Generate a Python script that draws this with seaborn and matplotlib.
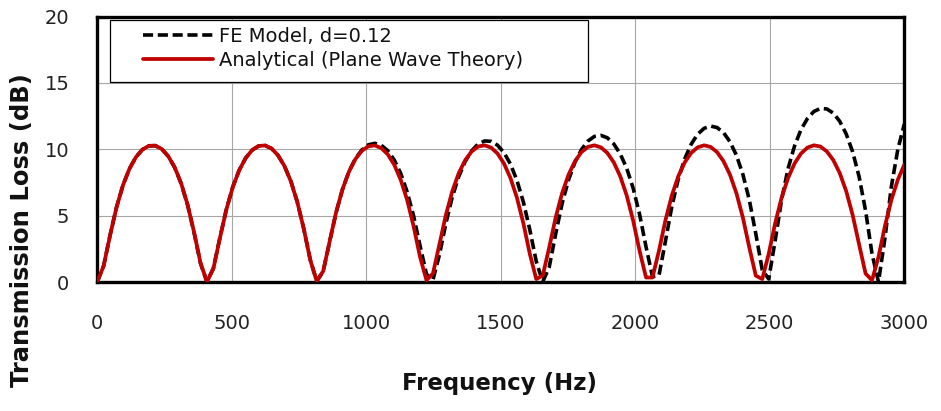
import matplotlib
matplotlib.use("Agg")
import matplotlib.pyplot as plt
from matplotlib.patches import Rectangle
import seaborn as sns

# ---------------- data ----------------
freq = list(range(0, 3001, 24))  # Hz

fe_model = [
    0.00, 1.22, 3.54, 5.65, 7.31, 8.54, 9.42, 9.98, 10.26, 10.27, 10.02, 9.48, 8.63, 7.42, 5.80, 3.73, 1.40, 0.01,
    1.05, 3.33, 5.47, 7.17, 8.44, 9.35, 9.94, 10.25, 10.29, 10.06, 9.55, 8.74, 7.58, 6.02, 4.00, 1.67, 0.06,
    0.80, 3.04, 5.24, 7.00, 8.34, 9.31, 9.96, 10.34, 10.45, 10.30, 9.90, 9.20, 8.19, 6.80, 4.98, 2.74, 0.59,
    0.16, 2.04, 4.41, 6.42, 7.95, 9.09, 9.89, 10.40, 10.63, 10.60, 10.31, 9.75, 8.89, 7.67, 6.04, 3.94, 1.55, 0.02,
    1.11, 3.61, 5.91, 7.69, 9.03, 9.98, 10.62, 10.97, 11.05, 10.87, 10.41, 9.66, 8.58, 7.08, 5.11, 2.65, 0.40,
    0.48, 3.06, 5.70, 7.76, 9.29, 10.39, 11.14, 11.58, 11.75, 11.64, 11.26, 10.57, 9.55, 8.11, 6.17, 3.64, 0.91,
    0.23, 3.12, 6.21, 8.55, 10.25, 11.48, 12.32, 12.85, 13.08, 13.04, 12.73, 12.11, 11.16, 9.81, 7.94, 5.38, 2.13,
    0.00, 3.30, 7.20, 10.00, 11.90,
]

analytical = [
    0.00, 1.22, 3.53, 5.64, 7.30, 8.54, 9.41, 9.98, 10.26, 10.28, 10.02, 9.48, 8.64, 7.44, 5.83, 3.76, 1.44, 0.01,
    1.02, 3.30, 5.45, 7.15, 8.43, 9.34, 9.94, 10.25, 10.29, 10.06, 9.55, 8.74, 7.58, 6.01, 3.99, 1.66, 0.06,
    0.82, 3.06, 5.25, 7.00, 8.32, 9.27, 9.89, 10.23, 10.29, 10.09, 9.62, 8.84, 7.71, 6.19, 4.21, 1.89, 0.13,
    0.64, 2.83, 5.05, 6.85, 8.21, 9.19, 9.84, 10.21, 10.30, 10.13, 9.68, 8.93, 7.84, 6.36, 4.43, 2.12, 0.22,
    0.48, 2.59, 4.85, 6.69, 8.09, 9.10, 9.79, 10.18, 10.30, 10.15, 9.73, 9.02, 7.97, 6.53, 4.64, 2.35, 0.34,
    0.34, 2.35, 4.64, 6.53, 7.97, 9.02, 9.73, 10.15, 10.30, 10.18, 9.79, 9.10, 8.09, 6.69, 4.85, 2.59, 0.48,
    0.22, 2.12, 4.43, 6.36, 7.84, 8.93, 9.68, 10.13, 10.30, 10.21, 9.84, 9.19, 8.21, 6.85, 5.05, 2.83, 0.64,
    0.13, 1.89, 4.21, 6.19, 7.71, 8.84,
]

x_ticks = [0, 500, 1000, 1500, 2000, 2500, 3000]
y_ticks = [0, 5, 10, 15, 20]
label_fe = "FE Model, d=0.12"
label_an = "Analytical (Plane Wave Theory)"
x_title = "Frequency (Hz)"
y_title = "Transmission Loss (dB)"

# ---------------- figure ----------------
sns.set_theme(style="white")
plt.rcParams["font.family"] = ["DejaVu Sans"]

W, H = 941, 411
fig = plt.figure(figsize=(W / 100, H / 100), dpi=100)
L, R, T, B = 97.2, 904.3, 16.6, 282.0
ax = fig.add_axes([L / W, 1 - B / H, (R - L) / W, (B - T) / H])

sns.lineplot(x=freq, y=fe_model, ax=ax, color="black", lw=2.6,
             linestyle=(0, (2.8, 1.3)), label=label_fe, zorder=3)
sns.lineplot(x=freq, y=analytical, ax=ax, color="#c00000", lw=2.7,
             label=label_an, zorder=4)

ax.set_xlim(0, 3000)
ax.set_ylim(0, 20)
ax.set_xticks(x_ticks)
ax.set_yticks(y_ticks)
ax.grid(True, color="#a6a6a6", lw=0.8)
ax.set_axisbelow(True)
for s in ax.spines.values():
    s.set_visible(True)
    s.set_color("black")
    s.set_linewidth(2.4)
ax.tick_params(axis="both", length=0, labelsize=14, colors="#222222")
ax.tick_params(axis="x", pad=23)
ax.tick_params(axis="y", pad=20)

ax.set_xlabel(x_title, fontsize=16.5, fontweight="bold", color="#111111")
ax.set_ylabel(y_title, fontsize=17.5, fontweight="bold", color="#111111")
ax.xaxis.set_label_coords((500 - L) / (R - L), (B - 383) / (B - T))
ax.yaxis.set_label_coords((22 - L) / (R - L), (B - 230) / (B - T))
ax.xaxis.label.set_va("center")
ax.yaxis.label.set_va("center")

# legend box (frame) + entries
bx0, by0, bx1, by1 = 110, 20, 588, 82
ax.add_patch(Rectangle(((bx0 - L) / (R - L), (B - by1) / (B - T)),
                       (bx1 - bx0) / (R - L), (by1 - by0) / (B - T),
                       transform=ax.transAxes, facecolor="white",
                       edgecolor="black", lw=0.9, zorder=5, clip_on=False))
leg = ax.legend(loc="upper left",
                bbox_to_anchor=((143 - L) / (R - L), (B - 26.5) / (B - T)),
                frameon=False, fontsize=14, handlelength=3.6,
                handletextpad=0.3, labelspacing=0.28, borderpad=0,
                borderaxespad=0)
leg.set_zorder(6)
for t in leg.get_texts():
    t.set_color("#111111")

fig.savefig("out.png", dpi=100, facecolor="white")
